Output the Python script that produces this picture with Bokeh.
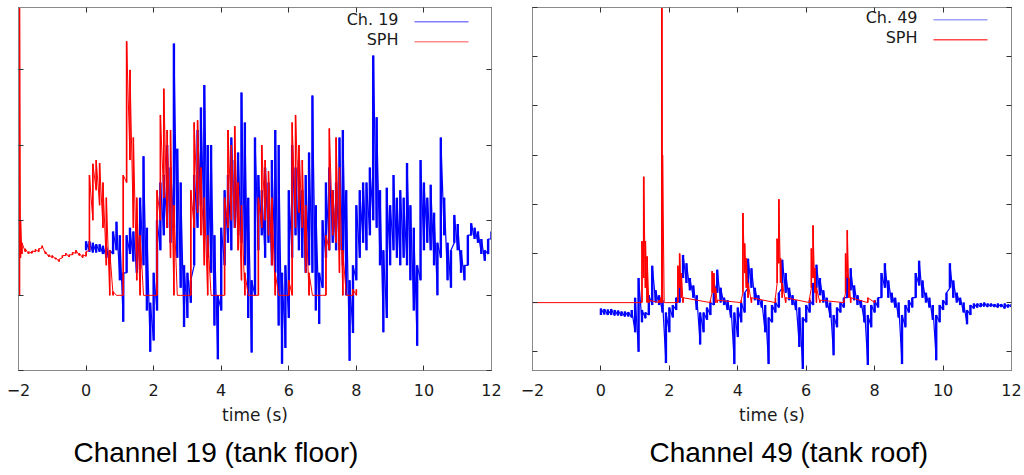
from bokeh.plotting import figure
from bokeh.models import Range1d, LinearAxis, FixedTicker, Label, BoxAnnotation, Title
from bokeh.layouts import row
from bokeh.embed import file_html
from bokeh.resources import INLINE

# ---------------- data ----------------
x_ticks = [-2, 0, 2, 4, 6, 8, 10, 12]

# Channel 19 measured (blue), envelope per 0.1 s bin
ch19_t = [0.0, 0.1, 0.2, 0.3, 0.4, 0.5, 0.6, 0.7, 0.8, 0.9,
          1.0, 1.1, 1.2, 1.3, 1.4, 1.5, 1.6, 1.7, 1.8, 1.9,
          2.0, 2.1, 2.2, 2.3, 2.4, 2.5, 2.6, 2.7, 2.8, 2.9,
          3.0, 3.1, 3.2, 3.3, 3.4, 3.5, 3.6, 3.7, 3.8, 3.9,
          4.0, 4.1, 4.2, 4.3, 4.4, 4.5, 4.6, 4.7, 4.8, 4.9,
          5.0, 5.1, 5.2, 5.3, 5.4, 5.5, 5.6, 5.7, 5.8, 5.9,
          6.0, 6.1, 6.2, 6.3, 6.4, 6.5, 6.6, 6.7, 6.8, 6.9,
          7.0, 7.1, 7.2, 7.3, 7.4, 7.5, 7.6, 7.7, 7.8, 7.9,
          8.0, 8.1, 8.2, 8.3, 8.4, 8.5, 8.6, 8.7, 8.8, 8.9,
          9.0, 9.1, 9.2, 9.3, 9.4, 9.5, 9.6, 9.7, 9.8, 9.9,
          10.0, 10.1, 10.2, 10.3, 10.4, 10.5, 10.6, 10.7, 10.8, 10.9,
          11.0, 11.1, 11.2, 11.3, 11.4, 11.5, 11.6, 11.7, 11.8, 11.9,
          12.0]
ch19_lo = [0.60, 0.58, 0.57, 0.57, 0.58, 0.55, 0.50, 0.42, 0.55, 0.60,
           0.20, -0.35, 0.30, 0.55, 0.45, 0.30, 0.35, 0.40, -0.20, -0.75,
           -0.60, -0.20, 0.60, 0.80, 0.90, 0.70, 0.90, 0.50, 0.10, -0.42,
           -0.30, -0.10, 0.40, 0.90, 1.20, 0.80, 0.50, 0.30, -0.40, -0.85,
           -0.20, 0.40, 0.70, 0.60, 0.90, 0.80, 0.70, 0.40, -0.30, -0.76,
           0.00, 0.60, 0.80, 0.50, 0.70, 0.40, 0.30, -0.40, -0.91, -0.70,
           -0.30, 0.50, 0.80, 0.60, 0.50, 0.30, 0.40, 0.30, -0.20, -0.38,
           0.10, 0.50, 0.60, 0.70, 0.60, 0.60, 0.40, 0.00, -0.87, -0.50,
           0.20, 0.50, 0.70, 0.60, 0.80, 1.00, 0.90, 0.40, -0.49, -0.30,
           0.40, 0.60, 0.50, 0.40, 0.50, 0.40, 0.20, -0.20, -0.67, 0.20,
           0.60, 0.70, 0.60, 0.40, 0.00, 0.50, 0.80, 0.20, 0.10, 0.70,
           0.60, 0.30, 0.20, 0.40, 0.80, 0.75, 0.70, 0.55, 0.46, 0.55,
           0.75]
ch19_hi = [0.72, 0.72, 0.70, 0.68, 0.68, 0.66, 0.64, 0.60, 0.85, 0.98,
           0.80, 0.30, 0.80, 0.90, 0.85, 0.95, 1.30, 1.85, 0.90, -0.10,
           0.30, 1.00, 1.50, 1.60, 2.00, 1.70, 3.35, 1.95, 1.50, 0.40,
           0.30, 0.20, 1.60, 2.20, 2.50, 2.80, 2.00, 2.00, 0.80, 0.00,
           0.90, 1.40, 1.60, 2.10, 1.80, 1.90, 2.70, 2.30, 1.30, 0.20,
           2.10, 1.60, 1.40, 1.70, 1.50, 1.80, 2.20, 2.00, 0.30, 0.40,
           1.40, 2.00, 1.70, 1.80, 1.40, 1.60, 1.90, 2.66, 1.20, 0.30,
           1.00, 1.50, 1.70, 1.40, 1.50, 2.10, 2.20, 1.40, 0.20, 0.40,
           1.20, 1.40, 1.50, 1.50, 1.70, 3.19, 2.37, 1.40, 0.60, 1.43,
           1.20, 1.60, 1.30, 1.40, 1.30, 1.76, 1.20, 0.90, 0.40, 1.80,
           1.50, 1.30, 1.47, 1.10, 0.70, 2.10, 1.30, 0.70, 0.60, 1.07,
           0.95, 0.60, 0.40, 0.80, 0.96, 0.90, 0.85, 0.75, 0.60, 0.75,
           0.85]

# SPH at channel 19 (red)
sph19_t = [-1.97, -1.94, -1.9, -1.8, -1.7, -1.6, -1.5, -1.4, -1.3, -1.2,
           -1.1, -1.0, -0.9, -0.8, -0.7, -0.6, -0.5, -0.4, -0.3, -0.2,
           -0.1, 0.0, 0.1, 0.2, 0.3, 0.4, 0.5, 0.6, 0.7, 0.8,
           0.9, 1.0, 1.1, 1.2, 1.3, 1.4, 1.5, 1.6, 1.7, 1.8,
           1.9, 2.0, 2.1, 2.2, 2.3, 2.4, 2.5, 2.6, 2.7, 2.8,
           2.9, 3.0, 3.1, 3.2, 3.3, 3.4, 3.5, 3.6, 3.7, 3.8,
           3.9, 4.0, 4.1, 4.2, 4.3, 4.4, 4.5, 4.6, 4.7, 4.8,
           4.9, 5.0, 5.1, 5.2, 5.3, 5.4, 5.5, 5.6, 5.7, 5.8,
           5.9, 6.0, 6.1, 6.2, 6.3, 6.4, 6.5, 6.6, 6.7, 6.8,
           6.9, 7.0, 7.1, 7.2, 7.3, 7.4, 7.5, 7.6, 7.7, 7.8,
           7.9, 8.0]
sph19_lo = [0.00, 0.50, 0.55, 0.58, 0.55, 0.56, 0.58, 0.58, 0.63, 0.55,
            0.51, 0.50, 0.48, 0.45, 0.50, 0.53, 0.51, 0.54, 0.56, 0.53,
            0.50, 0.52, 0.60, 1.00, 1.40, 1.20, 0.90, 0.40, 0.00, 0.00,
            0.00, 0.00, 0.00, 1.50, 1.80, 0.90, 0.20, 0.00, 0.00, 0.00,
            0.00, 0.00, 0.00, 1.00, 1.30, 0.90, 0.50, 0.00, 0.00, 0.00,
            0.00, 0.00, 0.00, 0.90, 1.10, 0.80, 0.40, 0.00, 0.00, 0.00,
            0.00, 0.00, 0.00, 0.90, 1.00, 0.90, 0.60, 0.20, 0.00, 0.00,
            0.00, 0.00, 0.00, 0.90, 1.00, 0.80, 0.40, 0.00, 0.00, 0.00,
            0.00, 0.00, 0.00, 0.90, 1.10, 0.90, 0.30, 0.00, 0.00, 0.00,
            0.00, 0.00, 0.00, 0.60, 0.80, 0.70, 0.30, 0.00, 0.00, 0.00,
            0.00, 0.00]
sph19_hi = [3.83, 1.00, 0.70, 0.62, 0.58, 0.59, 0.61, 0.62, 0.66, 0.58,
            0.54, 0.53, 0.50, 0.48, 0.53, 0.56, 0.54, 0.57, 0.60, 0.56,
            0.54, 0.58, 1.60, 1.75, 1.80, 1.76, 1.50, 1.30, 0.60, 0.05,
            0.00, 0.00, 1.60, 3.38, 3.00, 2.10, 1.30, 0.80, 0.00, 0.00,
            0.00, 0.00, 1.40, 2.40, 2.75, 2.20, 2.20, 1.20, 0.00, 0.00,
            0.00, 0.00, 1.40, 2.30, 2.33, 1.70, 1.30, 0.80, 0.00, 0.00,
            0.00, 0.00, 1.30, 2.20, 2.00, 2.25, 1.50, 1.20, 0.30, 0.00,
            0.00, 0.00, 1.30, 2.00, 1.80, 1.65, 1.30, 0.30, 0.00, 0.00,
            0.00, 0.20, 2.30, 2.40, 2.00, 1.80, 1.20, 0.30, 0.00, 0.00,
            0.00, 0.00, 0.80, 2.22, 1.40, 2.10, 1.70, 0.60, 0.00, 0.00,
            0.08, 0.08]

# Channel 49 measured (blue)
ch49_t = list(ch19_t)
ch49_lo = [-0.25, -0.24, -0.25, -0.25, -0.26, -0.26, -0.27, -0.28, -0.28, -0.30,
           -0.60, -1.00, -0.40, -0.32, -0.25, -0.05, 0.00, -0.05, -0.20, -1.23,
           -0.60, -0.30, -0.15, 0.00, 0.50, 0.40, 0.25, 0.10, -0.15, -0.85,
           -0.60, -0.35, -0.25, -0.05, 0.20, 0.00, -0.05, -0.15, -0.30, -1.25,
           -0.70, -0.40, -0.20, 0.30, 0.30, 0.05, -0.05, -0.10, -0.60, -1.25,
           -0.40, -0.20, -0.10, 0.30, 0.20, 0.05, -0.05, -0.15, -0.90, -1.35,
           -0.40, -0.20, -0.05, 0.30, 0.15, 0.00, -0.10, -0.30, -1.07, -0.50,
           -0.20, -0.10, 0.10, 0.25, 0.05, -0.05, -0.10, -0.40, -1.27, -0.50,
           -0.20, -0.10, 0.10, 0.30, 0.10, 0.00, -0.10, -0.30, -1.25, -0.50,
           -0.20, -0.10, 0.10, 0.35, 0.10, 0.00, -0.10, -0.35, -1.17, -0.40,
           -0.15, -0.05, 0.30, 0.10, 0.00, -0.05, -0.20, -0.44, -0.25, -0.12,
           -0.10, -0.09, -0.08, -0.09, -0.08, -0.09, -0.10, -0.09, -0.12, -0.10,
           -0.09]
ch49_hi = [-0.12, -0.13, -0.14, -0.13, -0.15, -0.16, -0.18, -0.18, -0.19, -0.15,
           0.10, 0.50, -0.15, -0.20, 0.15, 0.75, 0.25, 0.15, 0.05, -0.20,
           -0.10, -0.05, 0.10, 0.60, 0.97, 0.80, 0.50, 0.35, 0.15, -0.20,
           -0.20, -0.10, 0.00, 0.40, 0.67, 0.30, 0.10, 0.05, -0.05, -0.20,
           -0.10, 0.00, 0.20, 0.89, 0.70, 0.30, 0.15, 0.05, -0.05, -0.30,
           -0.05, 0.00, 0.20, 0.87, 0.60, 0.30, 0.15, 0.05, -0.10, -0.30,
           -0.05, 0.05, 0.40, 0.77, 0.50, 0.25, 0.10, 0.00, -0.25, -0.10,
           0.00, 0.10, 0.55, 0.70, 0.35, 0.15, 0.05, -0.05, -0.25, -0.05,
           0.05, 0.10, 0.60, 0.80, 0.45, 0.20, 0.10, 0.00, -0.25, -0.05,
           0.05, 0.10, 0.60, 0.85, 0.45, 0.20, 0.10, -0.05, -0.25, -0.05,
           0.05, 0.20, 0.80, 0.45, 0.20, 0.10, 0.00, -0.15, -0.05, -0.02,
           -0.02, -0.01, 0.00, -0.02, -0.02, -0.03, -0.02, -0.03, -0.02, -0.04,
           -0.03]

# SPH at channel 49 (red)
sph49_t = [-2.0, 1.1, 1.2, 1.25, 1.3, 1.35, 1.4, 1.7, 1.75, 1.78,
           1.8, 1.85, 2.2, 2.25, 2.3, 2.35, 2.4, 3.2, 3.25, 3.3,
           3.35, 3.4, 4.1, 4.15, 4.2, 4.25, 4.3, 4.4, 5.1, 5.15,
           5.2, 5.25, 5.3, 5.4, 6.1, 6.15, 6.2, 6.25, 6.3, 6.4,
           7.1, 7.15, 7.2, 7.25, 7.3, 7.8, 8.0]
sph49_lo = [0.00, 0.00, 0.00, 0.50, 0.30, 0.00, 0.00, 0.00, 0.00, 0.00,
            0.00, 0.00, 0.00, 0.00, 0.30, 0.10, 0.00, 0.00, 0.20, 0.20,
            0.00, 0.00, 0.00, 0.20, 0.60, 0.30, 0.10, 0.00, 0.00, 0.40,
            0.80, 0.40, 0.10, 0.00, 0.00, 0.30, 0.50, 0.20, 0.00, 0.00,
            0.00, 0.20, 0.50, 0.10, 0.00, 0.00, 0.00]
sph49_hi = [0.00, 0.00, 1.25, 2.56, 1.25, 0.94, 0.05, 0.05, 0.10, 6.00,
            3.00, 0.00, 0.00, 0.75, 1.00, 0.60, 0.10, 0.05, 0.64, 0.60,
            0.30, 0.05, 0.05, 1.82, 1.20, 0.90, 0.40, 0.10, 0.10, 1.30,
            2.10, 0.90, 0.40, 0.10, 0.10, 1.10, 1.57, 0.70, 0.30, 0.05,
            0.05, 1.00, 1.47, 0.50, 0.10, 0.10, 0.05]


def zig(t, lo, hi):
    xs, ys = [], []
    for a, b, c in zip(t, lo, hi):
        xs += [a, a]
        ys += [b, c]
    return xs, ys


def hidden_axis(ticks):
    ax = LinearAxis(ticker=FixedTicker(ticks=ticks))
    ax.major_label_overrides = {k: "" for k in ticks}
    ax.major_label_text_font_size = "0px"
    ax.major_label_standoff = 0
    ax.major_tick_in = 5
    ax.major_tick_out = 0
    ax.minor_tick_line_color = None
    ax.axis_line_color = "#8a8a8a"
    ax.major_tick_line_color = "#333333"
    return ax


def panel(bt, blo, bhi, rt, rlo, rhi, yr, yticks, bl, br, bb, title, toff,
          name, blue_leg, red_leg, leg):
    p = figure(width=512, height=475, x_range=Range1d(-2, 12),
               y_range=Range1d(*yr), output_backend="svg",
               toolbar_location=None, x_axis_type=None, y_axis_type=None,
               min_border_left=bl, min_border_right=br, min_border_top=7,
               min_border_bottom=bb)
    p.grid.visible = False
    p.outline_line_color = "#8a8a8a"
    p.background_fill_color = "white"

    xb = LinearAxis(ticker=FixedTicker(ticks=x_ticks), axis_label="time (s)")
    xb.major_tick_in = 5
    xb.major_tick_out = 0
    xb.minor_tick_line_color = None
    xb.axis_line_color = "#8a8a8a"
    xb.major_tick_line_color = "#333333"
    xb.major_label_standoff = 13
    xb.major_label_text_font = "DejaVu Sans"
    xb.major_label_text_font_size = "16px"
    xb.major_label_text_color = "#1a1a1a"
    xb.axis_label_text_font = "DejaVu Sans"
    xb.axis_label_text_font_size = "17px"
    xb.axis_label_text_font_style = "normal"
    xb.axis_label_text_color = "#1a1a1a"
    xb.axis_label_standoff = 6
    p.add_layout(xb, "below")
    p.add_layout(hidden_axis(x_ticks), "above")
    p.add_layout(hidden_axis(yticks), "left")
    p.add_layout(hidden_axis(yticks), "right")

    bx, by = zig(bt, blo, bhi)
    rx, ry = zig(rt, rlo, rhi)
    p.segment(bt, blo, bt, bhi, line_color="#0000ff", line_width=2.4)
    p.line(bx, by, line_color="#0000ff", line_width=1.2)
    p.segment(rt, rlo, rt, rhi, line_color="#ff0000", line_width=1.6)
    p.line(rx, ry, line_color="#ff0000", line_width=1.0)

    # legend (gnuplot style: label then sample line)
    lx, y1, y2, sx0, sx1 = leg
    for txt, yy, col in [(name, y1, blue_leg), ("SPH", y2, red_leg)]:
        p.add_layout(Label(x=lx, y=yy, x_units="screen", y_units="screen",
                           text=txt, text_align="right", text_baseline="middle",
                           text_font="DejaVu Sans", text_font_size="16px",
                           text_color="#1a1a1a"))
        p.add_layout(BoxAnnotation(left=sx0, right=sx1, bottom=yy - 3.0, top=yy - 1.5,
                                   left_units="screen", right_units="screen",
                                   top_units="screen", bottom_units="screen",
                                   fill_color=col, fill_alpha=1.0, line_color=None))

    t = Title(text=title, align="left", offset=toff, text_font="Liberation Sans",
              text_font_size="28px", text_font_style="normal", text_color="black",
              standoff=15)
    p.add_layout(t, "below")
    return p


p1 = panel(ch19_t, ch19_lo, ch19_hi, sph19_t, sph19_lo, sph19_hi,
           (-1.0, 3.83), [-1, 0, 1, 2, 3], 18, 21, 104,
           "Channel 19 (tank floor)", 55, "Ch. 19", "#7f7fff", "#ff8c8c",
           (380, 351, 331, 396, 450))
p2 = panel(ch49_t, ch49_lo, ch49_hi, sph49_t, sph49_lo, sph49_hi,
           (-1.38, 6.0), [-1, 0, 1, 2, 3, 4, 5, 6], 20, 13, 102,
           "Channel 49 (tank roof)", 117, "Ch. 49", "#a0a0ff", "#ff4a4a",
           (385, 353, 333, 401, 455))

layout = row(p1, p2)
open("out.html", "w").write(file_html(layout, INLINE))
